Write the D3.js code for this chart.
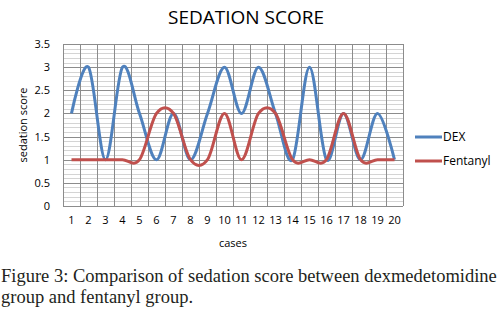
<!DOCTYPE html>
<html>
<head>
<meta charset="utf-8">
<script src="https://cdn.jsdelivr.net/npm/d3@7"></script>
<style>
  body { margin: 0; background: #fff; }
  svg { display: block; }
</style>
</head>
<body>
<div id="chart"></div>
<script>
// donnees
var cases = ["1","2","3","4","5","6","7","8","9","10","11","12","13","14","15","16","17","18","19","20"];
var dex =      [2, 3, 1, 3, 2, 1, 2, 1, 2, 3, 2, 3, 2, 1, 3, 1, 2, 1, 2, 1];
var fentanyl = [1, 1, 1, 1, 1, 2, 2, 1, 1, 2, 1, 2, 2, 1, 1, 1, 2, 1, 1, 1];
var yTicks = [0, 0.5, 1, 1.5, 2, 2.5, 3, 3.5];
var seriesNames = ["DEX", "Fentanyl"];
var couleurs = ["#4f81bd", "#c0504d"];

var W = 502, H = 318;
var plot = {left: 63, right: 403, top: 44, bottom: 206};

var svg = d3.select("#chart").append("svg")
    .attr("width", W)
    .attr("height", H);

var x = d3.scaleBand().domain(cases).range([plot.left, plot.right]).padding(0);
var y = d3.scaleLinear().domain([0, 3.5]).range([plot.bottom, plot.top]);

// titre
svg.append("text")
    .attr("x", 246)
    .attr("y", 24)
    .attr("text-anchor", "middle")
    .style("font-family", "'Open Sans', sans-serif")
    .style("font-size", "19px")
    .style("fill", "#000")
    .text("SEDATION SCORE");

// quadrillage secondaire (0.1)
var minor = d3.range(0, 35).map(function(d) { return d / 10; })
    .filter(function(d) { return Math.round(d * 10) % 5 !== 0; });
svg.append("g").selectAll("line")
    .data(minor)
    .enter().append("line")
    .attr("x1", plot.left).attr("x2", plot.right)
    .attr("y1", function(d) { return Math.round(y(d)) + 0.5; })
    .attr("y2", function(d) { return Math.round(y(d)) + 0.5; })
    .style("stroke", "#d4d4d4")
    .style("stroke-width", 1);

// quadrillage principal
svg.append("g").selectAll("line")
    .data(yTicks)
    .enter().append("line")
    .attr("x1", plot.left).attr("x2", plot.right)
    .attr("y1", function(d) { return Math.round(y(d)) + 0.5; })
    .attr("y2", function(d) { return Math.round(y(d)) + 0.5; })
    .style("stroke", "#8c8c8c")
    .style("stroke-width", 1);

// lignes verticales entre categories
var bords = cases.map(function(c) { return x(c); }).concat([plot.right]);
svg.append("g").selectAll("line")
    .data(bords)
    .enter().append("line")
    .attr("x1", function(d) { return Math.round(d) + 0.5; })
    .attr("x2", function(d) { return Math.round(d) + 0.5; })
    .attr("y1", plot.top).attr("y2", plot.bottom)
    .style("stroke", "#8c8c8c")
    .style("stroke-width", 1);

// axe Y
var axeY = svg.append("g")
    .attr("transform", "translate(" + (plot.left - 13) + ",0)")
    .call(d3.axisLeft(y).tickValues(yTicks).tickSize(0).tickPadding(0)
        .tickFormat(function(d) { return d; }));
axeY.select(".domain").remove();
axeY.selectAll("text")
    .style("font-family", "'Open Sans', sans-serif")
    .style("font-size", "11px")
    .style("fill", "#000");

// axe X
var axeX = svg.append("g")
    .attr("transform", "translate(0," + (plot.bottom + 10) + ")")
    .call(d3.axisBottom(x).tickSize(0).tickPadding(0));
axeX.select(".domain").remove();
axeX.selectAll("text")
    .style("font-family", "'Open Sans', sans-serif")
    .style("font-size", "11px")
    .style("fill", "#000");

// titres des axes
svg.append("text")
    .attr("x", (plot.left + plot.right) / 2)
    .attr("y", 247)
    .attr("text-anchor", "middle")
    .style("font-family", "'Open Sans', sans-serif")
    .style("font-size", "11px")
    .text("cases");

svg.append("text")
    .attr("transform", "translate(27," + ((plot.top + plot.bottom) / 2) + ") rotate(-90)")
    .attr("text-anchor", "middle")
    .style("font-family", "'Open Sans', sans-serif")
    .style("font-size", "11px")
    .text("sedation score");

// courbes lissees
var ligne = d3.line()
    .x(function(d, i) { return x(cases[i]) + x.bandwidth() / 2; })
    .y(function(d) { return y(d); })
    .curve(d3.curveCardinal.tension(0));

[dex, fentanyl].forEach(function(serie, k) {
    svg.append("path")
        .datum(serie)
        .attr("d", ligne)
        .style("fill", "none")
        .style("stroke", couleurs[k])
        .style("stroke-width", 3)
        .style("stroke-linejoin", "round");
});

// legende
var legende = svg.selectAll(".legend")
    .data(seriesNames)
    .enter().append("g")
    .attr("class", "legend")
    .attr("transform", function(d, i) { return "translate(415," + (137 + i * 24) + ")"; });

legende.append("line")
    .attr("x1", 0).attr("x2", 27)
    .style("stroke", function(d, i) { return couleurs[i]; })
    .style("stroke-width", 3);

legende.append("text")
    .attr("x", 28)
    .attr("dy", "0.35em")
    .style("font-family", "'Open Sans', sans-serif")
    .style("font-size", "12px")
    .text(function(d) { return d; });

// legende de la figure
var caption = ["Figure 3: Comparison of sedation score between dexmedetomidine", "group and fentanyl group."];
svg.selectAll(".caption")
    .data(caption)
    .enter().append("text")
    .attr("class", "caption")
    .attr("x", 1)
    .attr("y", function(d, i) { return 282 + i * 21; })
    .style("font-family", "'Liberation Serif', serif")
    .style("font-size", "18.5px")
    .style("fill", "#231f20")
    .text(function(d) { return d; });
</script>
</body>
</html>
